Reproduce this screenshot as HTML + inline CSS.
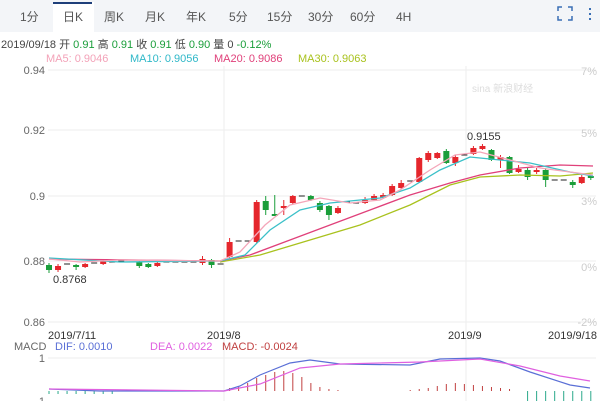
<!DOCTYPE html>
<html><head><meta charset="utf-8"><style>
body{margin:0;width:600px;height:401px;overflow:hidden;background:#fff;font-family:"Liberation Sans","Noto Sans CJK SC",sans-serif;}
</style></head><body>
<svg id="s" width="600" height="401" xmlns="http://www.w3.org/2000/svg" font-family="Liberation Sans, Noto Sans CJK SC, sans-serif">
<rect x="0" y="0" width="600" height="32" fill="#f3f5f8"/>
<rect x="53" y="2" width="41" height="30" fill="#fff"/>
<rect x="53" y="2" width="39" height="2" fill="#1f3f7a"/>
<g font-size="12" fill="#555">
<text x="20" y="21">1分</text><text x="63" y="21">日K</text><text x="104" y="21">周K</text><text x="145" y="21">月K</text><text x="186" y="21">年K</text><text x="229" y="21">5分</text><text x="267" y="21">15分</text><text x="308" y="21">30分</text><text x="350" y="21">60分</text><text x="396" y="21">4H</text>
</g>
<g stroke="#3a6fb5" stroke-width="1.5" fill="none"><path d="M558 11v-4h4M568 7h4v4M558 16v4h4M572 16v4h-4"/></g>
<g fill="#3a6fb5"><rect x="589" y="8" width="2" height="2"/><rect x="589" y="13" width="2" height="2"/><rect x="589" y="18" width="2" height="2"/></g>
<text x="1" y="48" font-size="11" fill="#444">2019/09/18 开 <tspan fill="#1a9e3a">0.91</tspan> 高 <tspan fill="#1a9e3a">0.91</tspan> 收 <tspan fill="#1a9e3a">0.91</tspan> 低 <tspan fill="#1a9e3a">0.90</tspan> 量 0 <tspan fill="#1a9e3a">-0.12%</tspan></text>
<g font-size="11"><text x="46" y="62" fill="#f3a2b8">MA5: 0.9046</text><text x="130" y="62" fill="#2fb8c8">MA10: 0.9056</text><text x="214" y="62" fill="#e0407a">MA20: 0.9086</text><text x="298" y="62" fill="#a9c21e">MA30: 0.9063</text></g>
<g stroke="#eee" stroke-width="1"><line x1="48" y1="70" x2="596" y2="70"/><line x1="48" y1="130" x2="596" y2="130"/><line x1="48" y1="196" x2="596" y2="196"/><line x1="48" y1="261" x2="596" y2="261"/><line x1="48" y1="322" x2="596" y2="322"/><line x1="224" y1="66" x2="224" y2="401"/><line x1="466" y1="66" x2="466" y2="401"/><line x1="48" y1="358" x2="596" y2="358"/></g>
<g font-size="11" fill="#666" text-anchor="end"><text x="45" y="74">0.94</text><text x="45" y="134">0.92</text><text x="45" y="200">0.9</text><text x="45" y="265">0.88</text><text x="45" y="326">0.86</text></g>
<g font-size="11" fill="#ccc" text-anchor="end"><text x="597" y="75">7%</text><text x="597" y="137">5%</text><text x="597" y="205">3%</text><text x="597" y="271">0%</text><text x="597" y="326">-2%</text></g>
<text x="472" y="92" font-size="10" fill="#ddd">sina 新浪财经</text>
<g font-size="11" fill="#333"><text x="48" y="339">2019/7/11</text><text x="207" y="339">2019/8</text><text x="448" y="339">2019/9</text><text x="548" y="339">2019/9/18</text>
<text x="53" y="283">0.8768</text><text x="467" y="140">0.9155</text></g>
<text x="14" y="350" font-size="11" fill="#666">MACD</text>
<g font-size="11"><text x="55" y="350" fill="#5a6fd6">DIF: 0.0010</text><text x="150" y="350" fill="#e060e0">DEA: 0.0022</text><text x="222" y="350" fill="#c04040">MACD: -0.0024</text></g>
<g font-size="11" fill="#666" text-anchor="end"><text x="45" y="362">1</text><text x="45" y="405">-1</text></g>
<g id="c"></g>
<polyline fill="none" stroke="#a9c21e" stroke-width="1.3" points="220,262 260,255 310,240 360,225 410,205 450,185 480,177 520,175 560,176 593,173"/>
<polyline fill="none" stroke="#e0407a" stroke-width="1.3" points="49,259 220,261 250,255 290,240 330,225 370,210 410,195 450,183 480,175 520,168 560,165 593,166"/>
<polyline fill="none" stroke="#3bc0c8" stroke-width="1.3" points="49,258 120,262 220,261 245,255 270,230 300,210 330,203 380,198 410,188 440,170 470,157 500,160 530,163 570,172 593,176"/>
<polyline fill="none" stroke="#f4a6b9" stroke-width="1.3" points="49,259 80,262 120,260 220,261 240,252 265,225 290,205 320,198 350,203 380,200 400,190 430,170 455,155 480,152 510,160 540,168 570,172 593,175"/>
<g id="h"></g>
<polyline fill="none" stroke="#5a6fd6" stroke-width="1.2" points="49,389 100,391 224,391 240,386 260,375 290,363 310,360 340,364 410,365 440,359 480,358 500,361 530,372 570,385 590,388"/>
<polyline fill="none" stroke="#e060e0" stroke-width="1.2" points="49,389 224,391 260,384 300,368 340,364 420,362 480,359 520,366 560,376 590,381"/>
</svg>
<script>
var C=[["g",265,270,263,273],["r",266,270,264,272],["d",264],["g",265,267,264,270],["r",264,267,263,268],["d",263],["r",261,264,260,265],["d",262],["d",261],["d",262],["g",262,266,261,268],["g",264,267,263,268],["r",263,266,262,267],["d",262],["d",262],["d",262],["d",262],["r",259,263,256,265],["g",260,265,259,268],["d",264],
["r",242,257,238,258],["d",241],["d",241],["r",202,242,200,243],["g",201,210,196,215],["g",214,216,195,216],["r",206,208,200,215],["r",196,203,195,204],["d",196],["g",196,200,195,201],["g",203,210,201,212],["g",206,215,205,220],["r",208,213,206,214],["d",202],["d",203],["r",200,203,197,204],["r",196,200,194,201],["r",195,198,193,199],["r",186,195,184,196],["r",183,188,180,189],["d",181],
["r",158,182,157,183],["r",153,160,151,162],["r",153,158,152,159],["g",151,163,149,164],["r",157,163,155,166],["d",155],["r",148,154,146,155],["r",146,149,144,150],["g",150,160,149,161],["r",157,160,155,168],["g",157,173,156,174],["r",169,172,165,173],["g",170,177,168,180],["r",170,172,168,174],["g",170,180,168,187],["d",180],["d",180],["g",182,185,180,188],["r",177,183,175,184],["g",176,178,174,180]];
var s="",h="";
C.forEach(function(c,i){var x=49+i*9.03;
if(c[0]=="d"){s+='<line x1="'+(x-3)+'" y1="'+c[1]+'" x2="'+(x+3)+'" y2="'+c[1]+'" stroke="#222"/>';return;}
var col=c[0]=="r"?"#e5262c":"#1a9e3a";
s+='<line x1="'+x+'" y1="'+c[3]+'" x2="'+x+'" y2="'+c[4]+'" stroke="'+col+'"/><rect x="'+(x-3)+'" y="'+c[1]+'" width="6" height="'+Math.max(1,c[2]-c[1])+'" fill="'+col+'"/>';});
document.getElementById("c").innerHTML=s;
for(var i=0;i<61;i++){var x=49+i*9.03,v=0,col="#c04040";
if(i<8)v=-3,col="#2aa88a";else if(i>=20&&i<27)v=[3,4,8,13,16,19,20][i-20];else if(i>=27&&i<33)v=[18,14,8,4,2,1][i-27];else if(i>=40&&i<52)v=[1,2,3,5,7,8,7,6,5,4,3,2][i-40];else if(i>=53)v=-13,col="#2aa88a";
if(v)h+='<line x1="'+x+'" y1="391" x2="'+x+'" y2="'+(391-v)+'" stroke="'+col+'"/>';}
document.getElementById("h").innerHTML=h;
</script>
</body></html>
